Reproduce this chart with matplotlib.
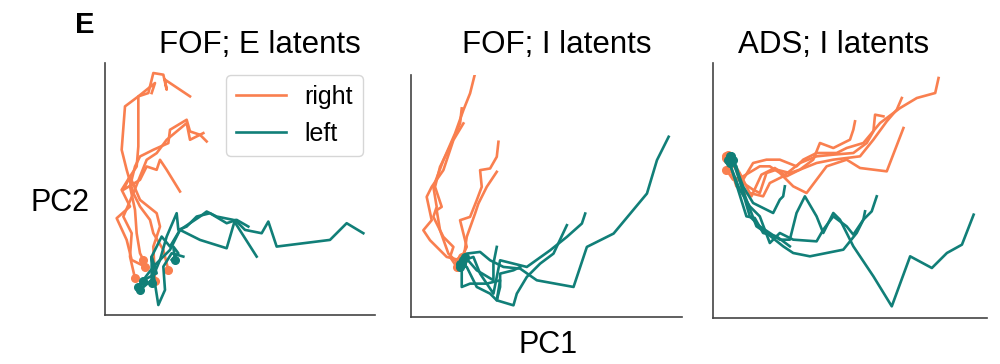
import matplotlib
matplotlib.use("Agg")
import matplotlib.pyplot as plt

plt.rcParams['font.family'] = ['Liberation Sans', 'DejaVu Sans']

ORANGE = "#F97F4F"
TEAL = "#117F78"

# PC scores (arbitrary units, PC2 axis runs top-down)
# panel 1: FOF; E latents
fofE_right = [
    [(135, 655), (120, 590), (125, 520), (100, 470), (130, 400), (110, 330), (95, 270), (105, 140),
     (145, 110), (175, 100), (190, 40), (220, 45), (230, 90), (225, 60), (300, 110)],
    [(160, 600), (150, 580), (140, 520), (135, 450), (120, 380), (135, 320), (150, 290), (190, 270),
     (235, 250), (240, 210), (290, 180), (300, 215), (330, 225), (350, 245)],
    [(195, 662), (190, 560), (210, 500), (200, 460), (150, 420), (120, 350), (100, 390), (150, 360),
     (170, 320), (200, 330), (210, 300), (230, 330), (270, 395)],
    [(165, 620), (125, 600), (110, 540), (80, 475), (120, 440), (95, 390), (120, 350), (140, 320),
     (145, 260), (145, 110), (195, 70), (185, 100)],
    [(235, 630), (220, 570), (190, 520), (180, 480), (150, 440), (130, 400), (150, 350), (170, 300),
     (200, 280), (230, 240), (290, 190), (300, 240), (340, 220)],
]
fofE_left = [
    [(150, 690), (185, 660), (210, 600), (230, 530), (260, 460), (265, 510), (290, 500), (320, 470),
     (360, 460), (410, 490), (440, 480), (475, 500)],
    [(158, 662), (200, 640), (185, 590), (215, 530), (240, 560), (270, 510), (330, 470), (350, 455),
     (380, 470), (430, 480), (500, 590)],
    [(145, 680), (175, 640), (200, 610), (240, 570), (270, 510), (330, 540), (410, 565), (435, 480),
     (465, 510), (515, 520), (535, 485), (560, 560), (720, 540), (770, 490), (820, 520)],
    [(185, 668), (185, 590), (190, 640), (205, 735), (225, 690), (220, 620), (245, 580), (280, 590)],
    [(255, 600), (250, 560), (265, 580), (245, 600)],
]

# panel 2: FOF; I latents
fofI_right = [
    [(170, 620), (150, 590), (160, 560), (130, 530), (100, 470), (110, 440), (100, 380), (130, 300),
     (165, 220), (190, 150), (210, 100), (225, 40)],
    [(175, 610), (145, 580), (120, 510), (110, 450), (125, 440), (105, 380), (120, 320), (150, 260),
     (180, 190), (185, 145)],
    [(180, 600), (140, 590), (90, 540), (70, 510), (95, 480), (80, 410), (95, 380), (130, 330),
     (160, 240), (190, 190)],
    [(185, 590), (200, 560), (180, 480), (210, 470), (230, 420), (245, 380), (240, 330), (270, 325),
     (290, 290), (295, 245)],
    [(190, 600), (200, 530), (225, 460), (235, 430), (260, 380), (290, 335)],
]
fofI_left = [
    [(180, 620), (200, 580), (240, 575), (270, 600), (310, 620), (360, 625), (410, 660), (520, 680),
     (560, 560), (640, 520), (740, 400), (770, 300), (805, 230)],
    [(185, 610), (185, 680), (210, 670), (260, 670), (300, 660), (290, 720), (340, 735), (350, 700),
     (380, 650), (420, 610), (460, 580), (500, 495)],
    [(190, 600), (220, 590), (240, 640), (280, 700), (300, 600), (340, 610), (380, 620), (450, 570),
     (500, 530), (545, 490), (555, 460)],
    [(180, 610), (200, 620), (230, 680), (270, 700), (290, 720), (300, 680), (300, 640), (340, 630),
     (360, 620)],
    [(195, 590), (230, 630), (280, 660), (280, 610), (290, 560)],
]

# panel 3: ADS; I latents
adsI_right = [
    [(80, 290), (110, 330), (130, 360), (160, 310), (200, 300), (240, 300), (290, 320), (310, 300),
     (350, 280), (410, 280), (440, 265), (490, 250), (540, 190), (600, 145), (650, 115), (705, 100),
     (715, 55)],
    [(80, 295), (100, 350), (160, 390), (180, 400), (200, 340), (230, 330), (270, 340), (300, 330),
     (350, 310), (400, 300), (480, 290), (520, 240), (560, 185), (590, 150), (605, 115)],
    [(85, 300), (110, 380), (155, 410), (185, 345), (225, 325), (260, 350), (300, 330), (340, 300),
     (360, 250), (400, 265), (450, 240), (460, 210), (465, 185)],
    [(80, 330), (100, 360), (130, 350), (180, 320), (210, 320), (240, 340), (280, 380), (320, 400),
     (350, 360), (380, 320), (440, 300), (480, 325), (520, 330), (560, 335), (610, 205)],
    [(85, 285), (120, 340), (150, 400), (190, 410), (210, 370), (250, 350), (300, 310), (350, 290),
     (400, 285), (460, 280), (500, 250), (520, 215), (525, 165), (550, 170)],
]
adsI_left = [
    [(90, 290), (110, 320), (130, 400), (150, 470), (180, 500), (210, 520), (240, 540), (270, 540),
     (290, 460), (315, 410), (350, 470), (370, 520), (400, 460), (420, 480), (460, 560), (520, 650),
     (575, 740), (630, 590), (695, 625), (740, 580), (785, 555), (820, 465)],
    [(85, 300), (120, 390), (150, 440), (180, 470), (210, 550), (240, 520), (280, 540), (350, 545),
     (370, 510), (400, 470), (440, 500), (460, 525), (490, 480), (495, 455)],
    [(95, 290), (115, 350), (140, 420), (170, 500), (200, 520), (250, 560), (280, 580), (330, 590),
     (380, 580), (430, 570), (470, 520), (490, 480), (515, 455), (530, 410)],
    [(100, 300), (130, 380), (160, 430), (210, 455), (220, 460), (240, 420), (250, 410), (255, 380)],
    [(90, 310), (140, 470), (165, 475), (190, 520), (230, 530), (270, 560)],
]

panels = [
    ("FOF; E latents", fofE_right, fofE_left, [0.105, 0.1346, 0.270, 0.6923], (45, 855), (765, 10)),
    ("FOF; I latents", fofI_right, fofI_left, [0.411, 0.1291, 0.271, 0.6648], (33, 845), (770, 45)),
    ("ADS; I latents", adsI_right, adsI_left, [0.713, 0.1264, 0.274, 0.7005], (40, 860), (775, 10)),
]
title_x = [0.260, 0.557, 0.834]

fig = plt.figure(figsize=(10, 3.64), dpi=100)

for i, (title, right, left, rect, xl, yl) in enumerate(panels):
    ax = fig.add_axes(rect)
    for trj in left:
        xs = [p[0] for p in trj]
        ys = [p[1] for p in trj]
        ax.plot(xs, ys, color=TEAL, lw=1.9, zorder=2)
        ax.plot(xs[0], ys[0], 'o', color=TEAL, ms=5.5, zorder=3)
    for j, trj in enumerate(right):
        xs = [p[0] for p in trj]
        ys = [p[1] for p in trj]
        ax.plot(xs, ys, color=ORANGE, lw=1.9, zorder=1,
                label="right" if j == 0 else None)
        ax.plot(xs[0], ys[0], 'o', color=ORANGE, ms=5.5, zorder=1)
    ax.set_xlim(*xl)
    ax.set_ylim(*yl)
    ax.set_xticks([])
    ax.set_yticks([])
    for s in ["top", "right"]:
        ax.spines[s].set_visible(False)
    for s in ["left", "bottom"]:
        ax.spines[s].set_color("#444444")
        ax.spines[s].set_linewidth(1.2)
    fig.text(title_x[i], 0.855, title, ha="center", va="baseline", fontsize=22.5)
    if i == 0:
        ax.plot([], [], color=TEAL, lw=1.9, label="left")
        ax.legend(loc="upper right", bbox_to_anchor=(0.956, 0.952), borderaxespad=0,
                  fontsize=18, handlelength=2.0, handletextpad=0.75, frameon=True)

fig.text(0.075, 0.909, "E", fontsize=21, fontweight="bold", va="baseline")
fig.text(0.06, 0.442, "PC2", fontsize=22, ha="center", va="center")
fig.text(0.548, 0.052, "PC1", fontsize=22, ha="center", va="center")

fig.savefig("out.png", dpi=100)
